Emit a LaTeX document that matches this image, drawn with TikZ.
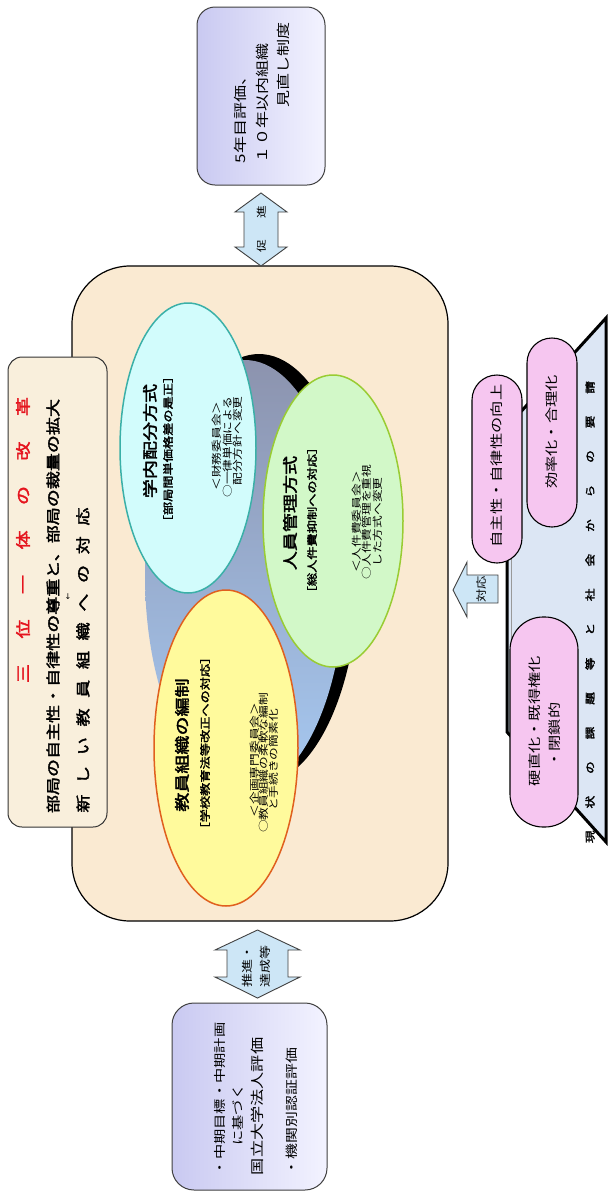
\documentclass[tikz,border=0pt]{standalone}
\usepackage{fontspec}
\setmainfont{Noto Sans CJK JP}[FakeStretch=1.27,AutoFakeBold=2.5]
\newfontfamily\symfont{DejaVu Sans}
\newcommand\myfs[1]{\fontsize{#1}{#1}\selectfont}
\definecolor{mainbg}{HTML}{FAEAD2}
\definecolor{titlebg}{HTML}{F9EFDC}
\definecolor{titlered}{HTML}{E5141E}
\definecolor{lavA}{HTML}{C9C9F1}
\definecolor{lavB}{HTML}{F3F3FF}
\definecolor{arrowfill}{HTML}{CDE6F6}
\definecolor{cyanfill}{HTML}{D2FCFC}
\definecolor{cyanline}{HTML}{3AB0A8}
\definecolor{greenfill}{HTML}{D2F8C8}
\definecolor{greenline}{HTML}{99CC33}
\definecolor{yellowfill}{HTML}{FFFA9C}
\definecolor{yellowline}{HTML}{E0601E}
\definecolor{swgray}{HTML}{8C93AE}
\definecolor{swblue}{HTML}{A6C9F2}
\definecolor{pillfill}{HTML}{F6C6F0}
\definecolor{trapfill}{HTML}{DCE6F4}
\begin{document}
\begin{tikzpicture}[x=1pt,y=-1pt,
  rt/.style={rotate=90,inner sep=0pt,outer sep=0pt},
  sidebox/.style={draw=black!75,line width=1pt,rounded corners=18pt,left color=lavA,right color=lavB},
  blockarrow/.style={draw=black!75,line width=0.9pt,fill=arrowfill,line join=miter},
  pill/.style={draw=black,line width=1.1pt,fill=pillfill},
  ovaltitle/.style={rt,font=\myfs{15}\bfseries},
  ovalsub/.style={rt,font=\myfs{10.4}\bfseries},
  ovalsmall/.style={rt,font=\myfs{10}}]
\useasboundingbox (0,0) rectangle (608,1192);
\fill[white] (0,0) rectangle (608,1192);

% main box
\draw[fill=mainbg,draw=black,line width=1.2pt,rounded corners=58pt] (72,266) rectangle (448,921);
% title box
\draw[fill=titlebg,draw=black!80,line width=1pt,rounded corners=14pt] (8,357) rectangle (107,827);
\node[rt] (ttl) at (23,540) {\color{titlered}\myfs{15}\bfseries\makebox[286pt]{三\hfill 位\hfill 一\hfill 体\hfill の\hfill 改\hfill 革}};
\node[rt] (tl2) at (53,606) {\myfs{14.2}\bfseries 部局の自主性・自律性の尊重と、部局の裁量の拡大};
\node[inner sep=0pt] (tar) at (68,597) {\symfont\myfs{8}↓};
\node[rt] (tl3) at (83,660) {\myfs{14.2}\bfseries\makebox[305pt]{新\hfill し\hfill い\hfill 教\hfill 員\hfill 組\hfill 織\hfill へ\hfill の\hfill 対\hfill 応}};

% swirl
\fill[black] (259,569) ellipse [x radius=100, y radius=215];
\shade[top color=swgray,bottom color=swblue] (245,575) ellipse [x radius=100, y radius=215];

% ellipses
\draw[fill=cyanfill,draw=cyanline,line width=1.5pt] (188,448) ellipse [x radius=68, y radius=145];
\draw[fill=greenfill,draw=greenline,line width=1.5pt] (333,521) ellipse [x radius=70, y radius=146];
\draw[fill=yellowfill,draw=yellowline,line width=1.5pt] (226,748) ellipse [x radius=72, y radius=158];

\node[ovaltitle] (c1) at (150,441) {学内配分方式};
\node[ovalsub] (c2) at (168,449) {［部局間単価格差の是正］};
\node[ovalsmall] (c3) at (217,446) {＜財務委員会＞};
\node[ovalsmall] (c4) at (228,447) {○一律単価による};
\node[ovalsmall] (c5) at (238,441) {配分方針へ変更};

\node[ovaltitle] (g1) at (290,513) {人員管理方式};
\node[ovalsub] (g2) at (312,520) {［総人件費抑制への対応］};
\node[ovalsmall] (g3) at (357,522) {＜人件費委員会＞};
\node[ovalsmall] (g4) at (367,522) {○人件費管理を重視};
\node[ovalsmall] (g5) at (378,522) {した方式へ変更};

\node[ovaltitle] (y1) at (182,745) {教員組織の編制};
\node[ovalsub] (y2) at (205,743) {［学校教育法等改正への対応］};
\node[ovalsmall] (y3) at (255,760) {＜企画専門委員会＞};
\node[ovalsmall] (y4) at (264,763) {○教員組織の柔軟な編制};
\node[ovalsmall] (y5) at (274,760) {と手続きの簡素化};

% top box
\draw[sidebox] (197,7) rectangle (325,185);
\node[rt,anchor=west] (tb1) at (240,163) {\myfs{13.4}5年目評価、};
\node[rt,anchor=west] (tb2) at (262,163) {\myfs{13.4}１０年以内組織};
\node[rt,anchor=east] (tb3) at (283,22) {\myfs{13.4}見直し制度};

% top double arrow
\draw[blockarrow] (261,193) -- (287,212) -- (278,212) -- (278,247) -- (287,247) -- (261,266)
  -- (235,247) -- (244,247) -- (244,212) -- (235,212) -- cycle;
\node[rt] (ta) at (262,229) {\myfs{10}\makebox[46pt]{促\hfill 進}};

% bottom double arrow
\draw[blockarrow] (257.5,930) -- (300,950) -- (288,950) -- (288,977) -- (300,977) -- (257.5,998)
  -- (215,977) -- (227,977) -- (227,950) -- (215,950) -- cycle;
\node[rt,anchor=west] (ba1) at (247,987) {\myfs{11}推進・};
\node[rt,anchor=west] (ba2) at (265,987) {\myfs{11}達成等};

% bottom box
\draw[sidebox,rounded corners=22pt] (172,1003) rectangle (327,1190);
\node[rt,anchor=west] (bb1) at (220,1175) {\myfs{12}・中期目標・中期計画};
\node[rt] (bb2) at (238,1115) {\myfs{12}に基づく};
\node[rt,anchor=west] (bb3) at (257,1175) {\myfs{13.5}国立大学法人評価};
\node[rt,anchor=west] (bb4) at (292,1175) {\myfs{12.5}・機関別認証評価};

% trapezoid
\draw[fill=trapfill,draw=black,line width=3pt,line join=miter] (507,427) -- (606,318) -- (606,842) -- (507,732) -- cycle;
\draw[black!40,line width=1pt] (511,424) -- (511,735);
\node[rt] (trl) at (590,612) {\myfs{10}\bfseries\makebox[462pt]{現\hfill 状\hfill の\hfill 課\hfill 題\hfill 等\hfill と\hfill 社\hfill 会\hfill か\hfill ら\hfill の\hfill 要\hfill 請}};

% pills
\draw[pill,rounded corners=25pt] (472,375) rectangle (522,563);
\node[rt] (p1) at (497,466) {\myfs{12.8}自主性・自律性の向上};
\draw[pill,rounded corners=25pt] (527,338) rectangle (577,527);
\node[rt] (p2) at (552,432) {\myfs{12.8}効率化・合理化};
\draw[pill,rounded corners=33pt] (510,617) rectangle (578,827);
\node[rt] (p3a) at (535,721) {\myfs{12.8}硬直化・既得権化};
\node[rt] (p3b) at (555,735) {\myfs{12.8}・閉鎖的};

% response arrow
\draw[blockarrow] (453,590) -- (467,562) -- (467,575) -- (498,575) -- (498,603) -- (467,603) -- (467,617) -- cycle;
\node[rt] (ra) at (482,589) {\myfs{10.5}対応};
\end{tikzpicture}
\end{document}
